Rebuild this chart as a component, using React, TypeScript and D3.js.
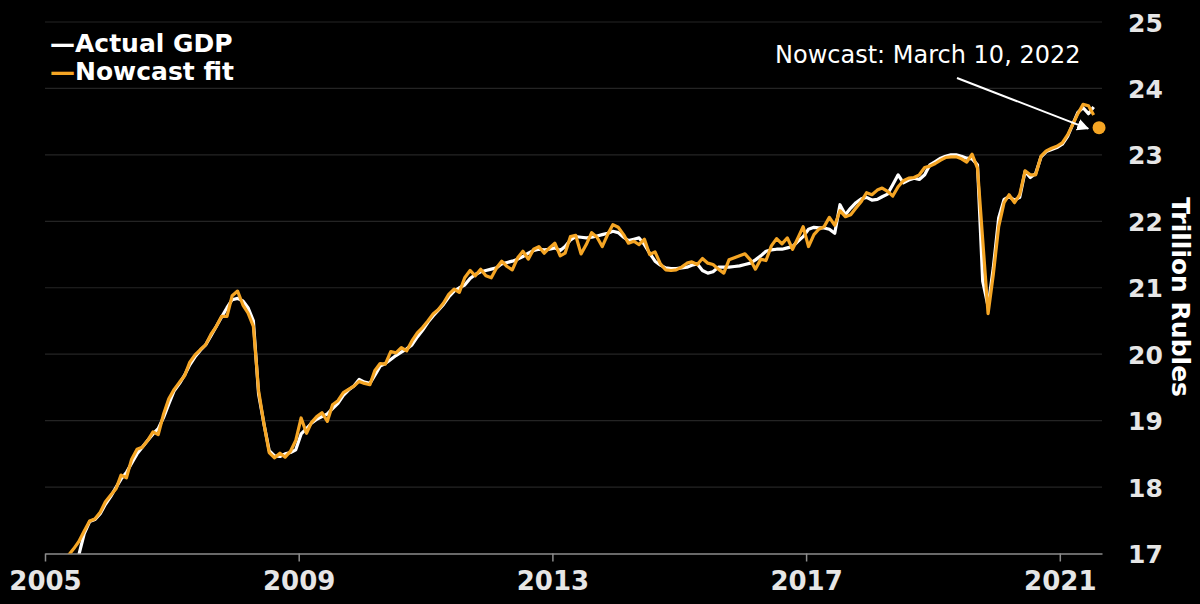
import * as d3 from 'd3';
import { useEffect, useRef } from 'react';

// monthly series, first point May 2005, last July 2021 (trillion rubles)
const startMonth = new Date(2005, 4, 15);

const actualGdp = [
  // 2005 (May-Dec)
  16.70, 16.85, 16.98, 17.30, 17.48, 17.51, 17.60, 17.74,
  // 2006
  17.86, 18.00, 18.12, 18.22, 18.36, 18.50, 18.60, 18.70, 18.80, 18.88, 19.05, 19.25,
  // 2007
  19.45, 19.56, 19.68, 19.84, 19.96, 20.06, 20.14, 20.28, 20.42, 20.56, 20.70, 20.82,
  // 2008
  20.84, 20.80, 20.70, 20.50, 19.40, 18.95, 18.55, 18.47, 18.46, 18.50, 18.52, 18.56,
  // 2009
  18.80, 18.88, 18.96, 19.02, 19.06, 19.10, 19.18, 19.26, 19.38, 19.46, 19.52, 19.62,
  // 2010
  19.58, 19.56, 19.68, 19.82, 19.86, 19.92, 19.98, 20.03, 20.08, 20.14, 20.26, 20.36,
  // 2011
  20.48, 20.58, 20.66, 20.75, 20.86, 20.95, 21.00, 21.04, 21.14, 21.20, 21.24, 21.26,
  // 2012
  21.28, 21.30, 21.36, 21.38, 21.40, 21.43, 21.47, 21.52, 21.56, 21.58, 21.57, 21.58,
  // 2013
  21.60, 21.56, 21.62, 21.72, 21.77, 21.76, 21.75, 21.76, 21.78, 21.80, 21.82, 21.85,
  // 2014
  21.83, 21.76, 21.71, 21.73, 21.75, 21.65, 21.52, 21.40, 21.34, 21.30, 21.29, 21.29,
  // 2015
  21.30, 21.31, 21.34, 21.36, 21.26, 21.22, 21.24, 21.31, 21.31, 21.31, 21.32, 21.33,
  // 2016
  21.35, 21.37, 21.42, 21.48, 21.55, 21.57, 21.58, 21.58, 21.60, 21.62, 21.70, 21.77,
  // 2017
  21.88, 21.91, 21.90, 21.90, 21.88, 21.82, 22.25, 22.10, 22.20, 22.28, 22.34, 22.36,
  // 2018
  22.32, 22.33, 22.37, 22.41, 22.55, 22.70, 22.58, 22.62, 22.65, 22.63, 22.70, 22.85,
  // 2019
  22.90, 22.95, 22.98, 23.00, 23.00, 22.98, 22.95, 22.94, 22.85, 21.10, 20.72, 21.30,
  // 2020
  22.05, 22.33, 22.37, 22.32, 22.36, 22.75, 22.66, 22.72, 22.97, 23.05, 23.08, 23.11,
  // 2021 (Jan-Jul)
  23.16, 23.28, 23.45, 23.64, 23.71, 23.62, 23.72,
];

const nowcastFit = [
  // 2005 (May-Dec)
  16.97, 17.07, 17.18, 17.34, 17.49, 17.52, 17.62, 17.78,
  // 2006
  17.88, 17.98, 18.18, 18.14, 18.42, 18.57, 18.60, 18.70, 18.83, 18.79, 19.10, 19.33,
  // 2007
  19.47, 19.58, 19.67, 19.88, 19.99, 20.07, 20.14, 20.30, 20.42, 20.57, 20.57, 20.88,
  // 2008
  20.95, 20.74, 20.62, 20.42, 19.45, 18.95, 18.52, 18.44, 18.51, 18.45, 18.54, 18.70,
  // 2009
  19.04, 18.81, 18.97, 19.06, 19.12, 18.99, 19.24, 19.30, 19.42, 19.47, 19.52, 19.59,
  // 2010
  19.56, 19.54, 19.75, 19.86, 19.85, 20.04, 20.02, 20.10, 20.05, 20.20, 20.32, 20.40,
  // 2011
  20.50, 20.61, 20.67, 20.77, 20.90, 20.98, 20.93, 21.15, 21.26, 21.18, 21.28, 21.18,
  // 2012
  21.15, 21.30, 21.40, 21.32, 21.27, 21.45, 21.55, 21.43, 21.58, 21.62, 21.52, 21.60,
  // 2013
  21.67, 21.48, 21.52, 21.77, 21.79, 21.51, 21.65, 21.83, 21.76, 21.62, 21.80, 21.95,
  // 2014
  21.91, 21.80, 21.67, 21.70, 21.65, 21.73, 21.50, 21.54, 21.36, 21.27, 21.26, 21.27,
  // 2015
  21.31, 21.37, 21.39, 21.35, 21.44, 21.37, 21.35, 21.28, 21.22, 21.42, 21.45, 21.48,
  // 2016
  21.51, 21.42, 21.28, 21.43, 21.41, 21.63, 21.74, 21.66, 21.75, 21.58, 21.75, 21.92,
  // 2017
  21.62, 21.80, 21.88, 21.92, 22.06, 21.94, 22.16, 22.07, 22.10, 22.20, 22.30, 22.43,
  // 2018
  22.40, 22.47, 22.50, 22.45, 22.38, 22.52, 22.61, 22.65, 22.66, 22.70, 22.81, 22.83,
  // 2019
  22.87, 22.92, 22.96, 22.97, 22.97, 22.94, 22.89, 23.01, 22.80, 21.72, 20.61, 21.20,
  // 2020
  21.92, 22.28, 22.40, 22.28, 22.40, 22.76, 22.70, 22.70, 22.98, 23.06, 23.10, 23.13,
  // 2021 (Jan-Jul)
  23.18, 23.30, 23.45, 23.62, 23.76, 23.74, 23.60,
];

const nowcastDate = new Date(2021, 7, 15);
const nowcastValue = 23.41;

const yTicks = [17, 18, 19, 20, 21, 22, 23, 24, 25];
const xTickYears = [2005, 2009, 2013, 2017, 2021];

const W = 1200;
const H = 604;
const ORANGE = '#f5a524';
const FONT = '"DejaVu Sans", Verdana, sans-serif';

const App = () => {
  const ref = useRef<SVGSVGElement>(null);

  useEffect(() => {
    const svg = d3.select(ref.current);
    svg.selectAll('*').remove();

    const left = 45;
    const right = 1102;
    const top = 22;
    const bottom = 553.5;

    const x = d3.scaleTime()
      .domain([new Date(2005, 0, 1), new Date(2021, 8, 1)])
      .range([left, right]);
    const y = d3.scaleLinear().domain([17, 25]).range([bottom, top]);

    svg.append('rect').attr('width', W).attr('height', H).attr('fill', '#000');

    const defs = svg.append('defs');
    defs.append('clipPath').attr('id', 'plot')
      .append('rect')
      .attr('x', left).attr('y', 0)
      .attr('width', right - left + 10).attr('height', bottom);
    defs.append('marker')
      .attr('id', 'arrow')
      .attr('viewBox', '0 0 10 10')
      .attr('refX', 9).attr('refY', 5)
      .attr('markerWidth', 6).attr('markerHeight', 6)
      .attr('orient', 'auto')
      .append('path')
      .attr('d', 'M0,0L10,5L0,10z')
      .attr('fill', '#fff');

    // gridlines + y labels
    const grid = svg.append('g');
    yTicks.forEach(t => {
      if (t > 17) {
        grid.append('line')
          .attr('x1', left).attr('x2', right)
          .attr('y1', y(t)).attr('y2', y(t))
          .attr('stroke', '#242424').attr('stroke-width', 1.2);
      }
      grid.append('text')
        .attr('x', 1128).attr('y', y(t) + 9.5)
        .attr('fill', '#e6e6e6')
        .attr('font-family', FONT).attr('font-weight', 'bold').attr('font-size', 25)
        .text(t);
    });

    // x axis
    const xAxis = svg.append('g')
      .attr('transform', `translate(0,${bottom})`)
      .call(
        d3.axisBottom(x)
          .tickValues(xTickYears.map(yr => new Date(yr, 0, 1)))
          .tickFormat(d => d3.timeFormat('%Y')(d as Date))
          .tickSize(8)
          .tickPadding(10)
          .tickSizeOuter(0)
      );
    xAxis.select('.domain').attr('stroke', '#8c8c8c').attr('stroke-width', 1.5);
    xAxis.selectAll('.tick line').attr('stroke', '#8c8c8c').attr('stroke-width', 1.5);
    xAxis.selectAll('.tick text')
      .attr('fill', '#e6e6e6')
      .attr('font-family', FONT).attr('font-weight', 'bold').attr('font-size', 26);

    const dates = actualGdp.map((_, i) => d3.timeMonth.offset(startMonth, i));
    const line = d3.line<number>()
      .x((_, i) => x(dates[i]))
      .y(d => y(d));

    const lines = svg.append('g').attr('clip-path', 'url(#plot)');
    lines.append('path')
      .datum(actualGdp)
      .attr('d', line)
      .attr('fill', 'none').attr('stroke', '#ffffff')
      .attr('stroke-width', 3.2).attr('stroke-linejoin', 'round');
    lines.append('path')
      .datum(nowcastFit)
      .attr('d', line)
      .attr('fill', 'none').attr('stroke', ORANGE)
      .attr('stroke-width', 3.2).attr('stroke-linejoin', 'round');

    // nowcast point + annotation
    const nx = x(nowcastDate);
    const ny = y(nowcastValue);
    svg.append('line')
      .attr('x1', 957).attr('y1', 78)
      .attr('x2', nx - 11).attr('y2', ny + 1)
      .attr('stroke', '#fff').attr('stroke-width', 2)
      .attr('marker-end', 'url(#arrow)');
    svg.append('circle')
      .attr('cx', nx).attr('cy', ny).attr('r', 6.5)
      .attr('fill', ORANGE);
    svg.append('text')
      .attr('x', 775).attr('y', 63)
      .attr('fill', '#fff')
      .attr('font-family', FONT).attr('font-size', 24)
      .text('Nowcast: March 10, 2022');

    // legend
    const legend = svg.append('g')
      .attr('font-family', FONT).attr('font-weight', 'bold').attr('font-size', 25);
    [['Actual GDP', '#ffffff'], ['Nowcast fit', ORANGE]].forEach(([name, color], i) => {
      const t = legend.append('text').attr('x', 50).attr('y', 52 + i * 28).attr('fill', '#fff');
      t.append('tspan').attr('fill', color).text('—');
      t.append('tspan').text(name);
    });

    // y title
    svg.append('text')
      .attr('transform', 'translate(1172,297) rotate(90)')
      .attr('text-anchor', 'middle')
      .attr('fill', '#fff')
      .attr('font-family', FONT).attr('font-weight', 'bold').attr('font-size', 25)
      .text('Trillion Rubles');
  }, []);

  return (
    <svg ref={ref} width={W} height={H} style={{ display: 'block', position: 'absolute', left: 0, top: 0 }} />
  );
};

export default App;
